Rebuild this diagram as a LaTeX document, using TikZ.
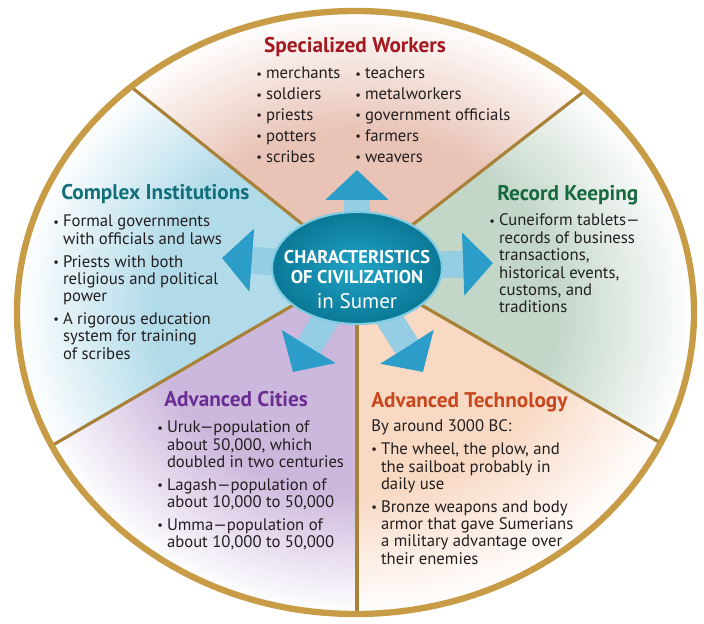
\documentclass[tikz,border=0pt]{standalone}
\usepackage{fontspec}
\setmainfont{PT Sans}
\usepackage{graphicx}
\usepackage{tikz}
\usetikzlibrary{positioning}
\usetikzlibrary{arrows.meta,shapes.geometric}

\definecolor{rimgold}{HTML}{C89B47}
\definecolor{linegold}{HTML}{A9823A}
\definecolor{workpink}{HTML}{E8C3B6}
\definecolor{recgreen}{HTML}{C3D7C9}
\definecolor{techpeach}{HTML}{F8D9C4}
\definecolor{citylilac}{HTML}{CDB8DD}
\definecolor{instblue}{HTML}{B2DBE9}
\definecolor{workred}{HTML}{A3191F}
\definecolor{insttitle}{HTML}{11707C}
\definecolor{rectitle}{HTML}{17693F}
\definecolor{citytitle}{HTML}{6A2D92}
\definecolor{techtitle}{HTML}{C8471D}
\definecolor{hubdark}{HTML}{0A7896}
\definecolor{hublight}{HTML}{22A3C6}
\definecolor{hubrim}{HTML}{7FCBE0}
\definecolor{arrowblue}{HTML}{2C9DC9}
\definecolor{textgray}{HTML}{231F20}

\colorlet{seccol}{workpink}
\pgfdeclareradialshading[seccol]{secfade}{\pgfpoint{0bp}{0bp}}{color(0bp)=(seccol); color(15bp)=(seccol); color(25bp)=(white); color(50bp)=(white)}

\pgfdeclarelayer{sectors}
\pgfdeclarelayer{pointers}
\pgfsetlayers{sectors,pointers,main}

\newcommand{\bul}{\makebox[5.5pt][l]{\raisebox{.1ex}{\scalebox{.75}{\textbullet}}}}
\newcommand{\ind}{\hspace*{5.5pt}}
\newcommand{\itemlines}[1]{\parbox[t]{7cm}{\raggedright #1}}
\newcommand{\fillsector}[2]{\begin{scope}\clip #2; \colorlet{seccol}{#1}\shade[shading=secfade] (rimc) ellipse [x radius=338.5, y radius=301.5];\end{scope}}

\begin{document}
\begin{tikzpicture}[x=0.02cm, y=-0.02cm, text=textgray]

  \tikzstyle{title} = [anchor=base west, inner sep=0pt, font=\fontsize{12.1}{14}\selectfont\bfseries]
  \tikzstyle{list} = [anchor=base west, inner sep=0pt, font=\fontsize{9.5}{9.9}\selectfont]
  \tikzstyle{hub} = [ellipse, minimum width=3.4cm, minimum height=2.24cm, inner color=hublight, outer color=hubdark, draw=hubrim, line width=1.2pt]
  \tikzstyle{hubtext} = [anchor=north, inner sep=0pt, align=center, text=white, font=\fontsize{10.5}{11.3}\selectfont]
  \tikzstyle{blockarrow} = [draw=arrowblue, line width=15pt, -{Triangle[width=35pt,length=17pt]}]
  \tikzstyle{arrowshine} = [draw=white, draw opacity=0.5, line width=15pt, shorten >=17pt]
  \tikzstyle{spoke} = [draw=linegold, line width=1.8pt]
  \tikzstyle{rim} = [draw=rimgold, line width=3.6pt]

  \useasboundingbox (0,0) rectangle (704,624);

  \coordinate (hubc) at (357,268);
  \coordinate (rimc) at (355.5,312.5);
  \coordinate (farUL) at (-87,-88);
  \coordinate (farUR) at (807,-82);
  \coordinate (farLR) at (961,616);
  \coordinate (farD) at (357,760);
  \coordinate (farLL) at (-251,622);

  \begin{pgfonlayer}{sectors}
    \begin{scope}
      \clip (rimc) ellipse [x radius=338.5, y radius=301.5];
      \fillsector{workpink}{(hubc) -- (farUL) -- (-87,-300) -- (807,-300) -- (farUR) -- cycle}
      \fillsector{recgreen}{(hubc) -- (farUR) -- (farLR) -- cycle}
      \fillsector{techpeach}{(hubc) -- (farLR) -- (961,760) -- (farD) -- cycle}
      \fillsector{citylilac}{(hubc) -- (farD) -- (-251,760) -- (farLL) -- cycle}
      \fillsector{instblue}{(hubc) -- (farLL) -- (farUL) -- cycle}
      \foreach \far in {farUL,farUR,farLR,farD,farLL}
        \draw[spoke] (hubc) -- (\far);
    \end{scope}
    \draw[rim] (rimc) ellipse [x radius=338.5, y radius=301.5];
  \end{pgfonlayer}

  \node[hub] (hub) at (hubc) {};
  \node[hubtext] (hubtitle) at (357,250) {\textbf{CHARACTERISTICS}\\\textbf{OF CIVILIZATION}\\[3pt]{\fontsize{12}{12}\selectfont in Sumer}};

  \coordinate (tipup) at (357,170);
  \coordinate (tipleft) at (222,258);
  \coordinate (tipright) at (493,263);
  \coordinate (tipll) at (293,372);
  \coordinate (tiplr) at (423,372);

  \begin{pgfonlayer}{pointers}
    \foreach \tip in {tipup,tipleft,tipright,tipll,tiplr}{
      \draw[blockarrow] (hub.center) -- (\tip);
      \draw[arrowshine] (hub.center) -- (\tip);
    }
  \end{pgfonlayer}

  \node[title, anchor=base, text=workred] (workers) at (355,53) {Specialized Workers};
  \node[list] (workers-a) at (256,79) {\itemlines{\bul merchants\\[2pt]\bul soldiers\\[2pt]\bul priests\\[2pt]\bul potters\\[2pt]\bul scribes}};
  \node[list] (workers-b) at (355,79) {\itemlines{\bul teachers\\[2pt]\bul metalworkers\\[2pt]\bul government officials\\[2pt]\bul farmers\\[2pt]\bul weavers}};

  \node[title, text=insttitle] (institutions) at (61,200) {Complex Institutions};
  \node[list] (institutions-list) at (53,227) {\itemlines{\bul Formal governments\\\ind with officials and laws\\[3pt]\bul Priests with both\\\ind religious and political\\\ind power\\[3pt]\bul A rigorous education\\\ind system for training\\\ind of scribes}};

  \node[title, text=rectitle] (records) at (497,201) {Record Keeping};
  \node[list] (records-list) at (489,226) {\itemlines{\bul Cuneiform tablets—\\\ind records of business\\\ind transactions,\\\ind historical events,\\\ind customs, and\\\ind traditions}};

  \node[title, text=citytitle] (cities) at (164,407) {Advanced Cities};
  \node[list] (cities-list) at (157,433) {\itemlines{\bul Uruk—population of\\\ind about 50,000, which\\\ind doubled in two centuries\\[3pt]\bul Lagash—population of\\\ind about 10,000 to 50,000\\[3pt]\bul Umma—population of\\\ind about 10,000 to 50,000}};

  \node[title, text=techtitle] (technology) at (371,408) {Advanced Technology};
  \node[list] (technology-list) at (371,432) {\itemlines{By around 3000 BC:\\[3pt]\bul The wheel, the plow, and\\\ind the sailboat probably in\\\ind daily use\\[3pt]\bul Bronze weapons and body\\\ind armor that gave Sumerians\\\ind a military advantage over\\\ind their enemies}};

\end{tikzpicture}
\end{document}
